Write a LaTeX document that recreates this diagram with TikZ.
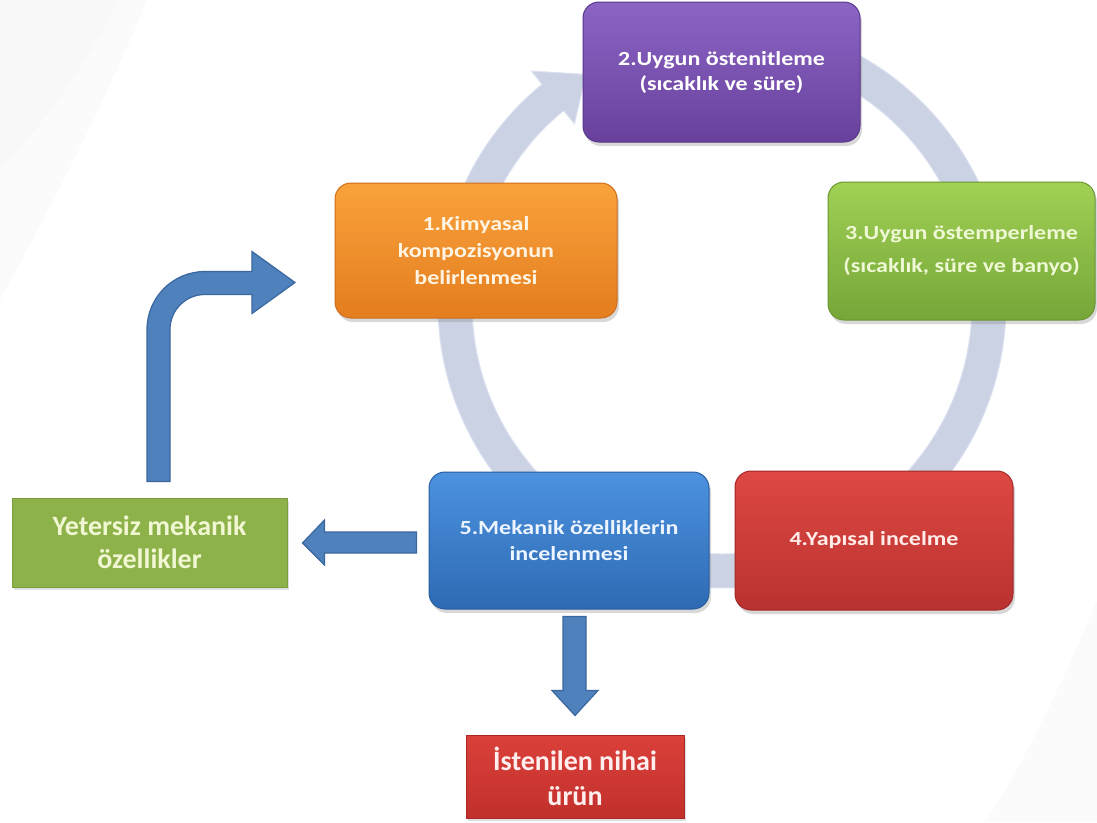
\documentclass[tikz,border=0pt]{standalone}
\usepackage{fontspec}
\setmainfont{Carlito}
\newfontfamily\cycfont{Carlito}[FakeStretch=1.2]
\usetikzlibrary{shadows,calc}
\definecolor{bgA}{RGB}{251,251,251}
\definecolor{bgB}{RGB}{248,248,248}
\definecolor{ringc}{RGB}{203,210,228}
\definecolor{ringd}{RGB}{218,224,240}
\definecolor{c1t}{RGB}{249,162,60}\definecolor{c1b}{RGB}{228,125,30}\definecolor{c1d}{RGB}{205,110,30}
\definecolor{c2t}{RGB}{140,100,196}\definecolor{c2b}{RGB}{104,64,156}\definecolor{c2d}{RGB}{90,55,140}
\definecolor{c3t}{RGB}{160,208,84}\definecolor{c3b}{RGB}{118,166,56}\definecolor{c3d}{RGB}{105,150,50}
\definecolor{c4t}{RGB}{222,72,66}\definecolor{c4b}{RGB}{185,50,48}\definecolor{c4d}{RGB}{160,40,40}
\definecolor{c5t}{RGB}{76,146,222}\definecolor{c5b}{RGB}{46,106,180}\definecolor{c5d}{RGB}{40,92,160}
\definecolor{yg}{RGB}{141,178,74}\definecolor{ygd}{RGB}{120,156,62}
\definecolor{rt}{RGB}{218,64,58}\definecolor{rb}{RGB}{194,48,44}\definecolor{rd}{RGB}{170,40,38}
\definecolor{ablue}{RGB}{79,129,189}\definecolor{ablued}{RGB}{58,103,158}
\definecolor{t1}{RGB}{255,244,226}\definecolor{t3}{RGB}{238,248,212}
\definecolor{t4}{RGB}{255,236,232}\definecolor{t5}{RGB}{236,244,255}
\definecolor{ty}{RGB}{240,247,210}\definecolor{tr}{RGB}{255,238,238}
\begin{document}
\begin{tikzpicture}[x=1pt,y=-1pt,
  cbox/.style={rounded corners=16pt, inner sep=0pt, align=center, line width=1pt,
    drop shadow={shadow xshift=2pt, shadow yshift=-4pt, opacity=0.3}},
  sbox/.style={inner sep=0pt, align=center, line width=1pt,
    drop shadow={shadow xshift=2pt, shadow yshift=-3pt, opacity=0.25},
    font=\bfseries\fontsize{28}{34}\selectfont},
  barrow/.style={fill=ablue, draw=ablued, line width=1.2pt, line join=miter}]
\useasboundingbox (0,0) rectangle (1097,822);
\fill[white] (0,0) rectangle (1097,822);
% faint background bands
\fill[bgA] (0,0) -- (147,0) .. controls (110,90) and (60,190) .. (0,300) -- cycle;
\fill[bgB] (0,0) -- (117,0) .. controls (85,70) and (45,120) .. (0,170) -- cycle;
\fill[bgA] (1097,600) .. controls (1060,690) and (1020,770) .. (985,822) -- (1097,822) -- cycle;
% cycle ring arrow
\begin{scope}[shift={(722,304)}]
\fill[ringc, draw=ringd, line width=1pt] (-90:250) arc[start angle=-90,end angle=230.7,radius=250]
  -- (230.7:233) -- (239.3:267) -- (230.7:301) -- (230.7:284)
  arc[start angle=230.7,end angle=-90,radius=284] -- cycle;
\end{scope}
% cycle boxes
\node[cbox, top color=c2t, bottom color=c2b, draw=c2d, text=white,
  minimum width=277pt, minimum height=140pt,
  font=\cycfont\bfseries\fontsize{20}{25}\selectfont] (n2) at (721.5,72)
  {2.Uygun östenitleme\\(sıcaklık ve süre)};
\node[cbox, top color=c1t, bottom color=c1b, draw=c1d, text=t1,
  minimum width=282pt, minimum height=135pt,
  font=\cycfont\bfseries\fontsize{20}{27}\selectfont] (n1) at (476,250.5)
  {1.Kimyasal\\kompozisyonun\\belirlenmesi};
\node[cbox, top color=c3t, bottom color=c3b, draw=c3d, text=t3,
  minimum width=267pt, minimum height=138pt,
  font=\cycfont\bfseries\fontsize{20}{33}\selectfont] (n3) at (961.5,251)
  {3.Uygun östemperleme\\(sıcaklık, süre ve banyo)};
\node[cbox, top color=c4t, bottom color=c4b, draw=c4d, text=t4,
  minimum width=278pt, minimum height=139pt,
  font=\cycfont\bfseries\fontsize{20}{24}\selectfont] (n4) at (874,540.5)
  {4.Yapısal incelme};
\node[cbox, top color=c5t, bottom color=c5b, draw=c5d, text=t5,
  minimum width=280pt, minimum height=137pt,
  font=\cycfont\bfseries\fontsize{20}{26}\selectfont] (n5) at (569,540.5)
  {5.Mekanik özelliklerin\\incelenmesi};
% outcome boxes
\node[sbox, fill=yg, draw=ygd, text=ty, minimum width=275pt, minimum height=89pt,
  font=\bfseries\fontsize{28}{33}\selectfont] (yet) at (149.5,542.5)
  {Yetersiz mekanik\\özellikler};
\node[sbox, top color=rt, bottom color=rb, draw=rd, text=tr, minimum width=218pt, minimum height=83pt,
  font=\bfseries\fontsize{28}{35}\selectfont] (urun) at (575,776.5)
  {İstenilen nihai\\ürün};
% block arrows
\begin{scope}[shift={(n5.west)}]
\filldraw[barrow] (-12,-8.5) -- (-104,-8.5) -- (-104,-20.5) -- (-126,2.5) -- (-104,24.5)
  -- (-104,12.5) -- (-12,12.5) -- cycle;
\end{scope}
\begin{scope}[shift={(n5.south)}]
\filldraw[barrow] (-6,7) -- (17,7) -- (17,81) -- (29,81) -- (6,106) -- (-17,81) -- (-6,81) -- cycle;
\end{scope}
\begin{scope}[shift={(yet.north)}]
\filldraw[barrow] (-2.5,-16) -- (-2.5,-168) arc[start angle=180,end angle=270,radius=58]
  -- (102.5,-226) -- (102.5,-246) -- (145.5,-215) -- (102.5,-184) -- (102.5,-203)
  -- (55.5,-203) arc[start angle=270,end angle=180,radius=35] -- (20.5,-16) -- cycle;
\end{scope}
\end{tikzpicture}
\end{document}
